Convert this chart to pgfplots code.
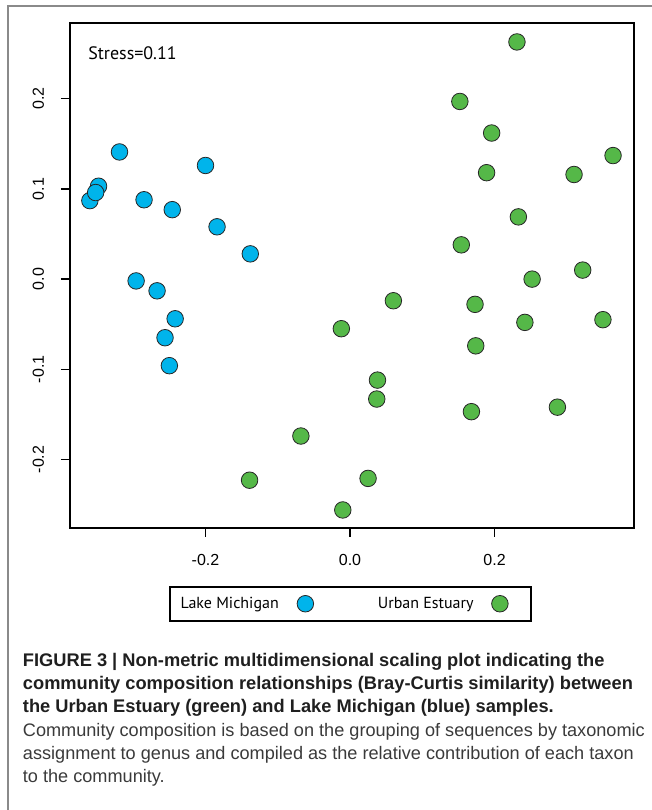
\documentclass[border=0pt]{standalone}
\usepackage{pgfplots}
\pgfplotsset{compat=1.18}
\usepackage{fontspec}
\setmainfont{Liberation Sans}
\newfontfamily\myriad{PT Sans}
\definecolor{lmblue}{HTML}{00B4EB}
\definecolor{uegreen}{HTML}{55B848}
\definecolor{framegray}{HTML}{8A8A8A}
\definecolor{bodygray}{HTML}{3A3A3A}
\begin{document}
\begin{tikzpicture}
\useasboundingbox (0,0) rectangle (489pt,607.5pt);
\draw[framegray, line width=1pt] (6pt,0pt) -- (6pt,603pt) -- (489pt,603pt);
\begin{axis}[
  at={(52.5pt,211.5pt)}, anchor=south west,
  scale only axis, width=423pt, height=378.75pt,
  xmin=-0.3875, xmax=0.393, ymin=-0.276, ymax=0.284,
  xtick={-0.2,0,0.2}, ytick={-0.2,-0.1,0,0.1,0.2},
  xticklabels={-0.2,0.0,0.2}, yticklabels={-0.2,-0.1,0.0,0.1,0.2},
  axis line style={line width=1.4pt},
  tick style={line width=1.1pt, black},
  tick align=outside, major tick length=6.75pt,
  xtick pos=bottom, ytick pos=left,
  /pgf/number format/assume math mode=true,
  ticklabel style={font=\fontsize{12}{14}\selectfont, inner sep=0pt},
  xticklabel style={anchor=north, yshift=-13pt},
  yticklabel style={rotate=90, anchor=south, yshift=12.5pt},
  legend style={at={(0.497,-0.15)}, anchor=center, legend columns=2,
    draw=black, line width=1.4pt, inner sep=0pt,
    font=\myriad\fontsize{12}{14}\selectfont,
    nodes={inner sep=0pt},
    /tikz/column 2/.style={column sep=31.3pt}},
  legend plot pos=right,
  legend image code/.code={\path[draw=none,fill=none] (-6.4pt,-12.75pt) rectangle (23.1pt,12.75pt);
     \draw[#1,line width=0.6pt] plot coordinates {(0pt,0pt)};},
]
\addplot[only marks, mark=*, mark size=6.2pt, mark options={fill=lmblue, draw=black!85, line width=0.6pt}] coordinates {
(-0.319,0.141) (-0.348,0.103) (-0.360,0.087) (-0.352,0.096)
(-0.285,0.088) (-0.246,0.077) (-0.200,0.126) (-0.184,0.058)
(-0.138,0.028) (-0.296,-0.002) (-0.267,-0.013) (-0.242,-0.044)
(-0.256,-0.065) (-0.250,-0.096)
};
\addlegendentry{\hspace*{8pt}\makebox[87.2pt][l]{Lake Michigan}}
\addplot[only marks, mark=*, mark size=6.2pt, mark options={fill=uegreen, draw=black!85, line width=0.6pt}] coordinates {
(0.231,0.263) (0.152,0.197) (0.196,0.162) (0.364,0.137)
(0.189,0.118) (0.310,0.116) (0.233,0.069) (0.154,0.038)
(0.322,0.010) (0.252,0.000) (0.060,-0.024) (0.173,-0.028)
(0.242,-0.048) (0.350,-0.045) (-0.012,-0.055) (0.174,-0.074)
(0.038,-0.112) (0.037,-0.133) (0.168,-0.147) (0.287,-0.142)
(-0.068,-0.174) (-0.139,-0.223) (0.025,-0.221) (-0.010,-0.256)
};
\addlegendentry{\makebox[85.1pt][l]{Urban Estuary}}
\end{axis}
\node[anchor=west, inner sep=0pt, font=\myriad\fontsize{13.5}{15}\selectfont] at (66pt,567.75pt) {Stress=0.11};
\begin{scope}[every node/.style={anchor=base west, inner sep=0pt}]
\node[font=\bfseries\fontsize{13.7}{15}\selectfont, text=black!88] at (17pt,107.25pt) {FIGURE 3 | Non-metric multidimensional scaling plot indicating the};
\node[font=\bfseries\fontsize{13.7}{15}\selectfont, text=black!88] at (17pt,90pt) {community composition relationships (Bray-Curtis similarity) between};
\node[font=\bfseries\fontsize{13.7}{15}\selectfont, text=black!88] at (17pt,73pt) {the Urban Estuary (green) and Lake Michigan (blue) samples.};
\node[font=\fontsize{13.6}{15}\selectfont, text=bodygray] at (17pt,55pt) {Community composition is based on the grouping of sequences by taxonomic};
\node[font=\fontsize{13.6}{15}\selectfont, text=bodygray] at (17pt,37.5pt) {assignment to genus and compiled as the relative contribution of each taxon};
\node[font=\fontsize{13.6}{15}\selectfont, text=bodygray] at (17pt,20.25pt) {to the community.};
\end{scope}
\end{tikzpicture}
\end{document}
